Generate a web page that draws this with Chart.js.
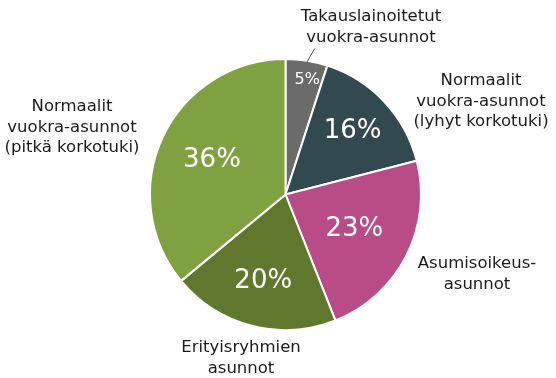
<!DOCTYPE html>
<html>
<head>
<meta charset="utf-8">
<script src="https://cdn.jsdelivr.net/npm/chart.js@4"></script>
<style>
  html, body { margin: 0; padding: 0; background: #fff; }
  canvas { display: block; }
</style>
</head>
<body>
<canvas id="kaavio" width="556" height="378"></canvas>
<script>
// osuudet (%)
const kategoriat = [
    ['Takauslainoitetut', 'vuokra-asunnot'],
    ['Normaalit', 'vuokra-asunnot', '(lyhyt korkotuki)'],
    ['Asumisoikeus-', 'asunnot'],
    ['Erityisryhmien', 'asunnot'],
    ['Normaalit', 'vuokra-asunnot', '(pitkä korkotuki)']
];
const osuudet = [5, 16, 23, 20, 36];
const varit = ['#6b6b6b', '#31494f', '#b94b87', '#5f782e', '#80a142'];

// label placement relative to pie centre (x, y of first line)
const nimiPaikat = [
    { dx: 85.5, dy: -177.5 },
    { dx: 195.5, dy: -113.5 },
    { dx: 191.5, dy: 69.5 },
    { dx: -44.5, dy: 153.5 },
    { dx: -213.5, dy: -87.5 }
];
const prosenttiSade = [0.86, 0.68, 0.57, 0.66, 0.6];

const tekstit = {
    id: 'tekstit',
    afterDatasetsDraw(chart) {
        const ctx = chart.ctx;
        const arcs = chart.getDatasetMeta(0).data;
        ctx.save();
        ctx.textAlign = 'center';
        ctx.textBaseline = 'middle';
        arcs.forEach((arc, i) => {
            const kulma = (arc.startAngle + arc.endAngle) / 2 + (i === 0 ? 0.03 : 0);
            const r = arc.outerRadius * prosenttiSade[i];
            const x = arc.x + Math.cos(kulma) * r;
            const y = arc.y + Math.sin(kulma) * r;
            ctx.fillStyle = '#ffffff';
            ctx.font = (i === 0 ? '16px' : '26px') + ' "DejaVu Sans", Verdana, sans-serif';
            ctx.fillText(osuudet[i] + '%', x, y);

            ctx.fillStyle = '#1a1a1a';
            ctx.font = '16.5px "DejaVu Sans", Verdana, sans-serif';
            const p = nimiPaikat[i];
            kategoriat[i].forEach((rivi, j) => {
                ctx.fillText(rivi, arc.x + p.dx, arc.y + p.dy + j * 20.5);
            });
        });
        // johtoviiva pienelle siivulle
        const a = arcs[0];
        const k = (a.startAngle + a.endAngle) / 2;
        ctx.strokeStyle = '#555';
        ctx.lineWidth = 1;
        ctx.beginPath();
        ctx.moveTo(a.x + Math.cos(k) * a.outerRadius * 0.98, a.y + Math.sin(k) * a.outerRadius * 0.98);
        ctx.lineTo(a.x + Math.cos(k) * a.outerRadius * 1.09 + 6, a.y + Math.sin(k) * a.outerRadius * 1.09);
        ctx.stroke();
        ctx.restore();
    }
};

const ctx = document.getElementById('kaavio').getContext('2d');
new Chart(ctx, {
    type: 'pie',
    data: {
        labels: kategoriat.map(k => k.join(' ')),
        datasets: [{
            data: osuudet,
            backgroundColor: varit,
            borderColor: '#ffffff',
            borderWidth: 2
        }]
    },
    options: {
        responsive: false,
        animation: false,
        layout: { padding: { left: 149, right: 134, top: 58, bottom: 47 } },
        plugins: {
            legend: { display: false },
            tooltip: { enabled: false }
        }
    },
    plugins: [tekstit]
});
</script>
</body>
</html>
